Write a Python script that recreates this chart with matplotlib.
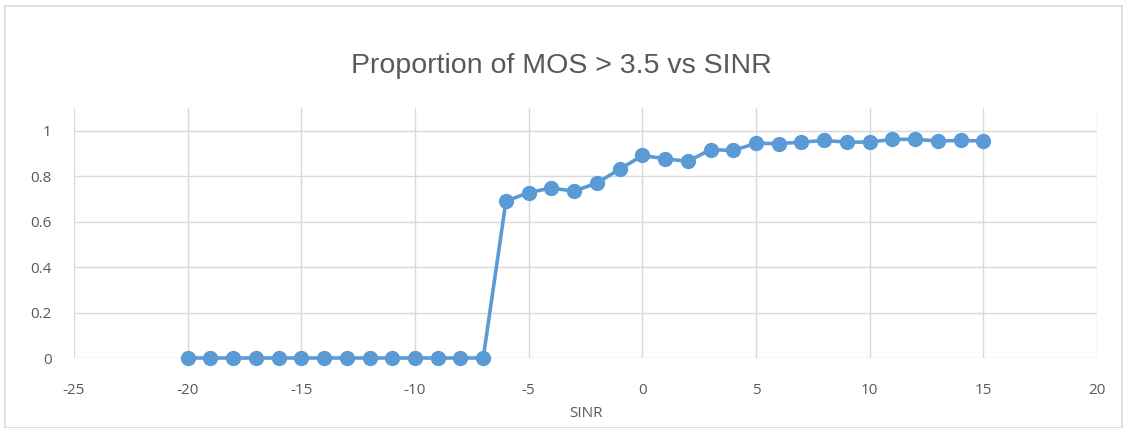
import matplotlib
matplotlib.use("Agg")
import matplotlib.pyplot as plt
from matplotlib.patches import Rectangle
from matplotlib.ticker import FuncFormatter, MultipleLocator

sinr = [-20, -19, -18, -17, -16, -15, -14, -13, -12, -11, -10, -9, -8, -7,
        -6, -5, -4, -3, -2, -1, 0, 1, 2, 3, 4, 5, 6, 7, 8, 9, 10, 11, 12, 13, 14, 15]
proportion = [0, 0, 0, 0, 0, 0, 0, 0, 0, 0, 0, 0, 0, 0,
              0.69, 0.728, 0.748, 0.734, 0.77, 0.83, 0.891, 0.877, 0.865, 0.917, 0.913,
              0.945, 0.943, 0.95, 0.957, 0.95, 0.95, 0.962, 0.962, 0.955, 0.957, 0.955]

title = "Proportion of MOS > 3.5 vs SINR"
xlabel = "SINR"

W, H = 1123, 428
fig = plt.figure(figsize=(W / 100, H / 100), dpi=100)
fig.patch.set_facecolor("white")

# outer chart border
fig.patches.append(Rectangle((5 / W, 0.5 / H), (W - 6) / W, (H - 6) / H,
                             transform=fig.transFigure, fill=False,
                             edgecolor="#d9d9d9", linewidth=1.2))

left, right = 74 / W, 1097 / W
bottom, top = 1 - 358 / H, 1 - 108 / H
ax = fig.add_axes([left, bottom, right - left, top - bottom])

blue = "#5B9BD5"
ax.plot(sinr, proportion, color=blue, linewidth=2.6, marker="o",
        markersize=10, markerfacecolor=blue, markeredgecolor=blue,
        clip_on=False, zorder=3)

ax.set_xlim(-25, 20)
ax.set_ylim(0, 1.1)
ax.xaxis.set_major_locator(MultipleLocator(5))
ax.set_yticks([0, 0.2, 0.4, 0.6, 0.8, 1.0])
ax.yaxis.set_major_formatter(FuncFormatter(lambda v, p: f"{v:g}"))
ax.xaxis.set_major_formatter(FuncFormatter(lambda v, p: f"{v:g}"))

ax.grid(True, color="#d9d9d9", linewidth=1.0)
ax.set_axisbelow(True)
for s in ax.spines.values():
    s.set_visible(False)
ax.tick_params(length=0, labelsize=11, labelcolor="#595959")
ax.tick_params(axis="y", pad=16)
ax.tick_params(axis="x", pad=18)
for lab in ax.get_xticklabels() + ax.get_yticklabels():
    lab.set_fontfamily("Open Sans")

ax.set_xlabel(xlabel, fontsize=11, color="#595959", family="Open Sans", labelpad=6)
fig.text(0.5, 1 - 66 / H, title, ha="center", va="center",
         fontsize=20.5, color="#595959", family="Liberation Sans")

fig.savefig("out.png", dpi=100, facecolor="white")
